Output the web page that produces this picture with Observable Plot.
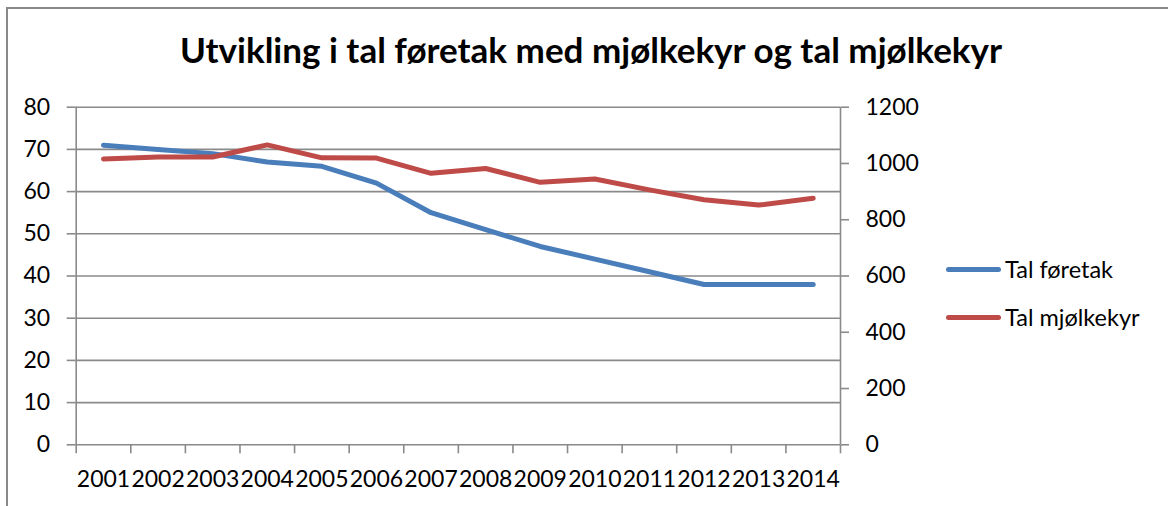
<!DOCTYPE html>
<html>
<head>
<meta charset="utf-8">
<script src="https://cdn.jsdelivr.net/npm/d3@7"></script>
<script src="https://cdn.jsdelivr.net/npm/@observablehq/plot@0.6"></script>
<style>
  html, body { margin: 0; padding: 0; background: #fff; }
  #wrap { position: relative; width: 1168px; height: 506px; overflow: hidden; font-family: Lato, "Open Sans", sans-serif; }
  #frame { position: absolute; left: 6px; top: 7px; width: 1200px; height: 600px; border-left: 2px solid #888; border-top: 2px solid #888; box-sizing: border-box; }
  #title { position: absolute; left: 0; top: 30px; width: 1182px; text-align: center; font-weight: 700; font-size: 33px; line-height: 33px; color: #000; white-space: nowrap; }
  #chart { position: absolute; left: 0; top: 0; }
  .leg { position: absolute; left: 946px; display: flex; align-items: center; font-size: 23.5px; color: #000; white-space: nowrap; }
  .leg .sw { width: 55px; height: 5px; border-radius: 3px; margin-right: 4px; }
</style>
</head>
<body>
<div id="wrap">
  <div id="frame"></div>
  <div id="chart"></div>
  <div id="title">Utvikling i tal føretak med mjølkekyr og tal mjølkekyr</div>
  <div class="leg" id="leg1" style="top:255px"><div class="sw" style="background:#4a7ebb"></div><span>Tal føretak</span></div>
  <div class="leg" id="leg2" style="top:303px"><div class="sw" style="background:#be4b48"></div><span>Tal mjølkekyr</span></div>
</div>
<script>
const years = [2001, 2002, 2003, 2004, 2005, 2006, 2007, 2008, 2009, 2010, 2011, 2012, 2013, 2014];
const talForetak = [71, 70, 69, 67, 66, 62, 55, 51, 47, 44, 41, 38, 38, 38];
const talMjolkekyr = [1016, 1023, 1023, 1066, 1020, 1019, 965, 982, 933, 945, 906, 871, 852, 876];
const leftTicks = [0, 10, 20, 30, 40, 50, 60, 70, 80];
const rightTicks = [0, 200, 400, 600, 800, 1000, 1200];
const seriesNames = ["Tal føretak", "Tal mjølkekyr"];
const colors = ["#4a7ebb", "#be4b48"];

const ratio = 1200 / 80;
const data = years.map((y, i) => ({year: y, foretak: talForetak[i], kyr: talMjolkekyr[i]}));
const boundaries = d3.range(years[0] - 0.5, years[years.length - 1] + 1, 1);
const grid = "#8a8a8a";

const chart = Plot.plot({
  width: 1168,
  height: 506,
  marginLeft: 75.7,
  marginRight: 328,
  marginTop: 106.7,
  marginBottom: 61.7,
  style: {fontFamily: "Lato, 'Open Sans', sans-serif", fontSize: "23px", color: "#000", background: "transparent"},
  x: {type: "linear", domain: [years[0] - 0.5, years[years.length - 1] + 0.5]},
  y: {domain: [0, 80]},
  marks: [
    Plot.gridY(leftTicks, {stroke: grid, strokeOpacity: 1, strokeWidth: 1.6}),
    Plot.ruleX([boundaries[0], boundaries[boundaries.length - 1]], {stroke: grid, strokeWidth: 1.6}),
    Plot.axisY({ticks: leftTicks, tickSize: 9, tickPadding: 17, stroke: grid, strokeWidth: 1.6, fill: "#000", label: null}),
    Plot.axisY({anchor: "right", ticks: rightTicks.map(v => v / ratio), tickFormat: d => String(Math.round(d * ratio)), tickSize: 8, tickPadding: 17, stroke: grid, strokeWidth: 1.6, fill: "#000", label: null}),
    Plot.axisX({ticks: boundaries, tickSize: 9, tickFormat: () => "", stroke: grid, strokeWidth: 1.6, label: null}),
    Plot.axisX({ticks: years, tickSize: 0, tickPadding: 26, tickFormat: d => String(d), fill: "#000", label: null}),
    Plot.line(data, {x: "year", y: "foretak", stroke: colors[0], strokeWidth: 5, strokeLinecap: "round", strokeLinejoin: "round"}),
    Plot.line(data, {x: "year", y: d => d.kyr / ratio, stroke: colors[1], strokeWidth: 5, strokeLinecap: "round", strokeLinejoin: "round"})
  ]
});
document.getElementById("chart").appendChild(chart);

// Fit title width to reference (~823px)
const t = document.getElementById("title");
const c = document.createElement("canvas").getContext("2d");
c.font = "700 33px Lato";
const w = c.measureText(t.textContent).width;
if (w > 0) {
  const fs = 33 * 823 / w;
  t.style.fontSize = fs + "px";
  t.style.lineHeight = fs + "px";
  t.style.top = (63 - 0.887 * fs) + "px";
}
</script>
</body>
</html>
